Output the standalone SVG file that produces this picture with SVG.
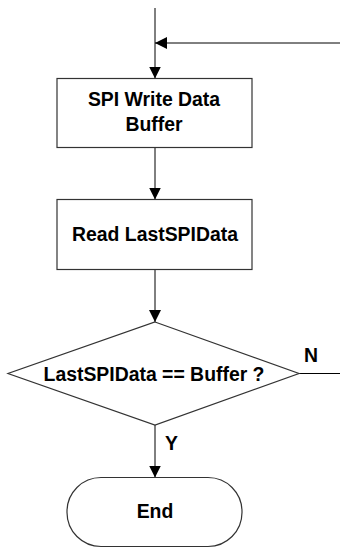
<svg xmlns="http://www.w3.org/2000/svg" width="340" height="549" viewBox="0 0 340 549">
<defs>
<marker id="ah" viewBox="0 0 12 12" refX="12" refY="6" markerWidth="12" markerHeight="12" markerUnits="userSpaceOnUse" orient="auto">
<path d="M0,0 L12,6 L0,12 z" fill="#000"/>
</marker>
<style>
.shape{fill:#fff;stroke:#333;stroke-width:1.2}
.conn{fill:none;stroke:#000;stroke-width:1}
.t{font-family:"Liberation Sans",Arial,sans-serif;font-weight:bold;font-size:19.4px;fill:#000;text-anchor:middle}
</style>
</defs>
<rect width="340" height="549" fill="#fff"/>
<g id="connectors">
<line class="conn" x1="155" y1="8" x2="155" y2="78.5" marker-end="url(#ah)"/>
<line class="conn" x1="340" y1="43" x2="155" y2="43" marker-end="url(#ah)"/>
<line class="conn" x1="155" y1="147.5" x2="155" y2="199.5" marker-end="url(#ah)"/>
<line class="conn" x1="155" y1="269.5" x2="155" y2="322" marker-end="url(#ah)"/>
<line class="conn" x1="299" y1="373.5" x2="340" y2="373.5"/>
<line class="conn" x1="155" y1="425" x2="155" y2="477.5" marker-end="url(#ah)"/>
<text class="t" x="311" y="362">N</text>
<text class="t" x="171.5" y="450">Y</text>
</g>
<g id="write">
<rect class="shape" x="57" y="78.5" width="195" height="69"/>
<text class="t" x="154" y="105.7">SPI Write Data</text>
<text class="t" x="154" y="130.7">Buffer</text>
</g>
<g id="read">
<rect class="shape" x="57" y="199.5" width="195" height="70"/>
<text class="t" x="155" y="241">Read LastSPIData</text>
</g>
<g id="decision">
<polygon class="shape" points="155,322 299,373.5 155,425 8,373.5"/>
<text class="t" x="154" y="381">LastSPIData == Buffer ?</text>
</g>
<g id="end">
<rect class="shape" x="67" y="477.5" width="175" height="69" rx="34" ry="34"/>
<text class="t" x="155" y="518.3">End</text>
</g>
</svg>
